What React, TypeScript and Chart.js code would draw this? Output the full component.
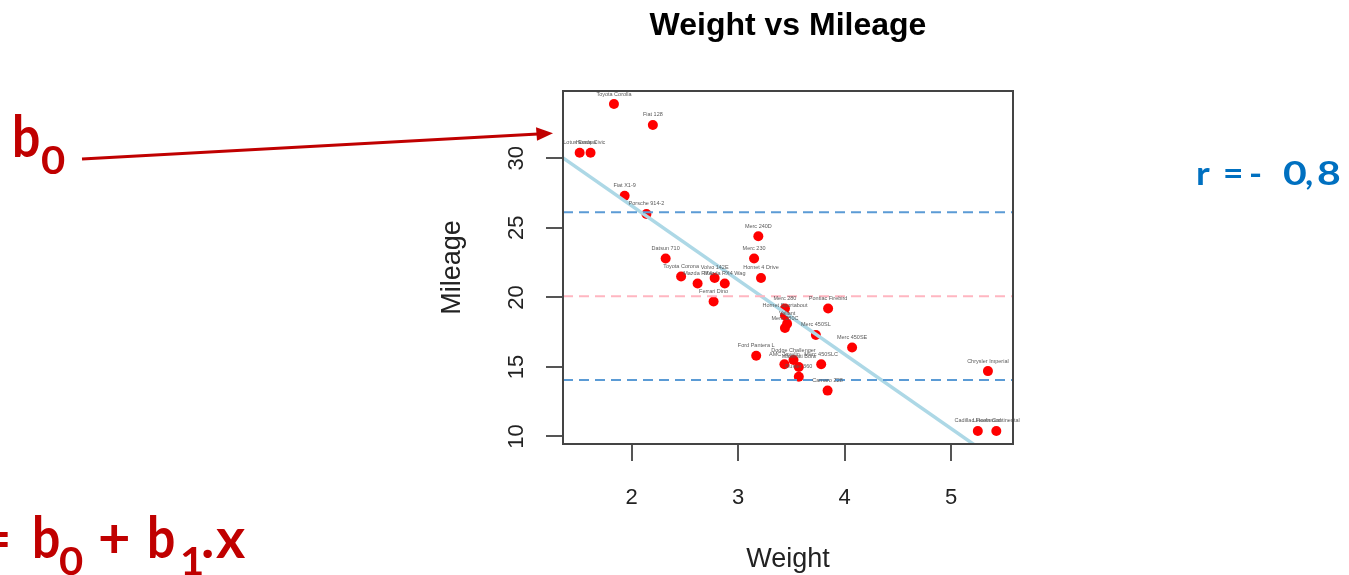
import { useEffect, useRef } from "react";
import { Chart, registerables } from "chart.js";

Chart.register(...registerables);

// ---- Data (mtcars: weight in 1000 lbs vs miles per gallon) ----
const carNames = [
  "Mazda RX4", "Mazda RX4 Wag", "Datsun 710", "Hornet 4 Drive", "Hornet Sportabout",
  "Valiant", "Duster 360", "Merc 240D", "Merc 230", "Merc 280", "Merc 280C",
  "Merc 450SE", "Merc 450SL", "Merc 450SLC", "Cadillac Fleetwood", "Lincoln Continental",
  "Chrysler Imperial", "Fiat 128", "Honda Civic", "Toyota Corolla", "Toyota Corona",
  "Dodge Challenger", "AMC Javelin", "Camaro Z28", "Pontiac Firebird", "Fiat X1-9",
  "Porsche 914-2", "Lotus Europa", "Ford Pantera L", "Ferrari Dino", "Maserati Bora",
  "Volvo 142E",
];
const weights = [
  2.62, 2.875, 2.32, 3.215, 3.44, 3.46, 3.57, 3.19, 3.15, 3.44, 3.44, 4.07, 3.73, 3.78,
  5.25, 5.424, 5.345, 2.2, 1.615, 1.835, 2.465, 3.52, 3.435, 3.84, 3.845, 1.935, 2.14,
  1.513, 3.17, 2.77, 3.57, 2.78,
];
const mileages = [
  21.0, 21.0, 22.8, 21.4, 18.7, 18.1, 14.3, 24.4, 22.8, 19.2, 17.8, 16.4, 17.3, 15.2,
  10.4, 10.4, 14.7, 32.4, 30.4, 33.9, 21.5, 15.5, 15.2, 13.3, 19.2, 27.3, 26.0, 30.4,
  15.8, 19.7, 15.0, 21.4,
];

// regression coefficients (b0, b1) and reference lines
const INTERCEPT = 37.285;
const SLOPE = -5.344;
const MEAN_MILEAGE = 20.09;
const BAND_UPPER = 26.12;
const BAND_LOWER = 14.06;

const X_TICKS = [2, 3, 4, 5];
const Y_TICKS = [10, 15, 20, 25, 30];
const X_MIN = 1.3566;
const X_MAX = 5.5804;
const Y_MIN = 9.46;
const Y_MAX = 34.84;

const TITLE = "Weight vs Mileage";
const X_TITLE = "Weight";
const Y_TITLE = "Mileage";

const FONT = "'Liberation Sans', Arial, Helvetica, sans-serif";
const NOTE_FONT = "Lato, 'Open Sans', sans-serif";
const DARK_RED = "#C00000";
const NOTE_BLUE = "#0070C0";

const W = 1349;
const H = 575;

function noteText(ctx: any, text: string, x: number, baseline: number, size: number, sx = 1) {
  ctx.save();
  ctx.translate(x, baseline);
  ctx.scale(sx, 1);
  ctx.font = `bold ${size}px ${NOTE_FONT}`;
  ctx.textAlign = "left";
  ctx.textBaseline = "alphabetic";
  ctx.fillText(text, 0, 0);
  ctx.restore();
}

const decorPlugin = {
  id: "decor",
  afterDatasetsDraw(chart: any) {
    const { ctx, chartArea, scales } = chart;
    const xs = scales.x;
    const ys = scales.y;

    // car name labels above points
    ctx.save();
    ctx.font = `5.5px ${FONT}`;
    ctx.fillStyle = "#5a5a5a";
    ctx.textAlign = "center";
    ctx.textBaseline = "middle";
    carNames.forEach((name, i) => {
      const px = xs.getPixelForValue(weights[i]);
      const py = ys.getPixelForValue(mileages[i]);
      ctx.fillText(name, px, py - 10);
    });
    ctx.restore();

    // plot frame
    ctx.save();
    ctx.strokeStyle = "#444";
    ctx.lineWidth = 2;
    ctx.strokeRect(
      chartArea.left,
      chartArea.top,
      chartArea.right - chartArea.left,
      chartArea.bottom - chartArea.top
    );
    ctx.restore();
  },
  afterDraw(chart: any) {
    const { ctx, scales } = chart;
    const ys = scales.y;

    // rotated y tick labels (R style, parallel to axis)
    ctx.save();
    ctx.font = `22px ${FONT}`;
    ctx.fillStyle = "#222";
    ctx.textAlign = "center";
    ctx.textBaseline = "middle";
    Y_TICKS.forEach((v) => {
      const py = ys.getPixelForValue(v);
      ctx.save();
      ctx.translate(517, py);
      ctx.rotate(-Math.PI / 2);
      ctx.fillText(String(v), 0, 0);
      ctx.restore();
    });
    ctx.restore();

    // annotations
    ctx.save();
    ctx.fillStyle = DARK_RED;
    // b0 top-left
    noteText(ctx, "b", 12, 157, 58, 0.86);
    noteText(ctx, "0", 41, 174, 38, 1.1);
    // arrow
    ctx.strokeStyle = DARK_RED;
    ctx.lineWidth = 3;
    ctx.beginPath();
    ctx.moveTo(82, 159);
    ctx.lineTo(538, 134);
    ctx.stroke();
    ctx.beginPath();
    ctx.moveTo(553, 133.2);
    ctx.lineTo(536, 127.3);
    ctx.lineTo(537, 140.7);
    ctx.closePath();
    ctx.fill();
    // equation bottom-left
    noteText(ctx, "=", -21, 558, 56);
    noteText(ctx, "b", 32, 558, 58, 0.86);
    noteText(ctx, "0", 59, 575, 38, 1.1);
    noteText(ctx, "+", 98, 558, 56);
    noteText(ctx, "b", 147, 558, 58, 0.86);
    noteText(ctx, "1", 180, 575, 38, 1.1);
    noteText(ctx, ".", 201, 558, 56);
    noteText(ctx, "x", 216, 558, 56);
    // correlation
    ctx.fillStyle = NOTE_BLUE;
    noteText(ctx, "r", 1196, 185, 32, 1.15);
    noteText(ctx, "=", 1223, 185, 32, 1.1);
    noteText(ctx, "-", 1249, 185, 32, 1.1);
    noteText(ctx, "0", 1283, 185, 32, 1.28);
    noteText(ctx, ",", 1305, 185, 32, 1.1);
    noteText(ctx, "8", 1317, 185, 32, 1.28);
    ctx.restore();
  },
};

export default function App() {
  const canvasRef = useRef<HTMLCanvasElement | null>(null);

  useEffect(() => {
    const canvas = canvasRef.current;
    if (!canvas) return;

    const scatterData = weights.map((w, i) => ({ x: w, y: mileages[i] }));
    const fitLine = [
      { x: X_MIN, y: INTERCEPT + SLOPE * X_MIN },
      { x: X_MAX, y: INTERCEPT + SLOPE * X_MAX },
    ];
    const hLine = (v: number) => [
      { x: X_MIN, y: v },
      { x: X_MAX, y: v },
    ];

    const chart = new Chart(canvas, {
      type: "scatter",
      data: {
        datasets: [
          {
            type: "scatter",
            label: "cars",
            data: scatterData,
            backgroundColor: "#FF0000",
            borderWidth: 0,
            pointRadius: 5,
            order: 4,
          },
          {
            type: "line",
            label: "fit",
            data: fitLine,
            borderColor: "#ADD8E6",
            borderWidth: 3.5,
            pointRadius: 0,
            fill: false,
            clip: 0,
            order: 3,
          },
          {
            type: "line",
            label: "mean",
            data: hLine(MEAN_MILEAGE),
            borderColor: "#FFB6C1",
            borderWidth: 2,
            borderDash: [10, 6],
            pointRadius: 0,
            fill: false,
            clip: 0,
            order: 2,
          },
          {
            type: "line",
            label: "upper",
            data: hLine(BAND_UPPER),
            borderColor: "#5B9BD5",
            borderWidth: 2,
            borderDash: [10, 6],
            pointRadius: 0,
            fill: false,
            clip: 0,
            order: 1,
          },
          {
            type: "line",
            label: "lower",
            data: hLine(BAND_LOWER),
            borderColor: "#5B9BD5",
            borderWidth: 2,
            borderDash: [10, 6],
            pointRadius: 0,
            fill: false,
            clip: 0,
            order: 1,
          },
        ],
      } as any,
      options: {
        animation: false,
        responsive: false,
        devicePixelRatio: 1,
        events: [],
        layout: { padding: { left: 0, right: W - 1013, top: 0, bottom: 0 } },
        plugins: {
          legend: { display: false },
          tooltip: { enabled: false },
          title: {
            display: true,
            text: TITLE,
            fullSize: false,
            color: "#000",
            font: { family: FONT, size: 32, weight: "bold" },
            padding: { top: 7, bottom: 45.6 },
          },
        },
        scales: {
          x: {
            type: "linear",
            position: "bottom",
            min: X_MIN,
            max: X_MAX,
            afterBuildTicks: (s: any) => {
              s.ticks = X_TICKS.map((v) => ({ value: v }));
            },
            afterFit: (s: any) => {
              s.height = H - 444;
            },
            grid: {
              drawOnChartArea: false,
              drawTicks: true,
              tickLength: 17,
              color: "#555",
              lineWidth: 2,
            },
            border: { display: false },
            ticks: {
              font: { family: FONT, size: 22 },
              color: "#222",
              padding: 24,
              maxRotation: 0,
              autoSkip: false,
            },
            title: {
              display: true,
              text: X_TITLE,
              color: "#222",
              font: { family: FONT, size: 27 },
              padding: { top: 0, bottom: -1 },
            },
          },
          y: {
            type: "linear",
            position: "left",
            min: Y_MIN,
            max: Y_MAX,
            afterBuildTicks: (s: any) => {
              s.ticks = Y_TICKS.map((v) => ({ value: v }));
            },
            afterFit: (s: any) => {
              s.width = 563;
            },
            grid: {
              drawOnChartArea: false,
              drawTicks: true,
              tickLength: 17,
              color: "#555",
              lineWidth: 2,
            },
            border: { display: false },
            ticks: { display: false },
            title: {
              display: true,
              text: Y_TITLE,
              color: "#222",
              font: { family: FONT, size: 27 },
              padding: { top: 436, bottom: 0 },
            },
          },
        },
      } as any,
      plugins: [decorPlugin],
    });

    return () => {
      chart.destroy();
    };
  }, []);

  return (
    <div
      style={{
        position: "fixed",
        left: 0,
        top: 0,
        width: W,
        height: H,
        background: "#fff",
        overflow: "hidden",
      }}
    >
      <canvas ref={canvasRef} width={W} height={H} style={{ width: W, height: H, display: "block" }} />
    </div>
  );
}
